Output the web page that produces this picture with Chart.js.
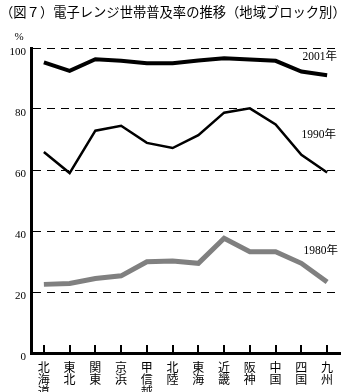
<!DOCTYPE html>
<html><head><meta charset="utf-8">
<script src="https://cdn.jsdelivr.net/npm/chart.js@4"></script>
<style>html,body{margin:0;padding:0;background:#fff}#wrap{width:355px;height:392px}</style>
</head><body><div id="wrap"><canvas id="c" width="355" height="392"></canvas></div>
<script>
const categories = ["北海道","東北","関東","京浜","甲信越","北陸","東海","近畿","阪神","中国","四国","九州"];
const y2001 = [95.3, 92.5, 96.3, 95.8, 95.0, 95.0, 95.9, 96.6, 96.2, 95.8, 92.3, 91.1];
const y1990 = [65.9, 59.0, 72.9, 74.5, 68.9, 67.2, 71.4, 78.8, 80.2, 74.9, 65.0, 59.2];
const y1980 = [22.5, 22.8, 24.4, 25.3, 29.9, 30.2, 29.4, 37.6, 33.2, 33.2, 29.4, 23.3];
const seriesNames = ["2001年","1990年","1980年"];
const yTicks = [0, 20, 40, 60, 80, 100];
const titleText = "（図７）電子レンジ世帯普及率の推移（地域ブロック別）";
const unitText = "%";

const serif = "'Liberation Serif', 'Noto Sans CJK JP', serif";
const cjk = "'Noto Sans CJK JP', sans-serif";

const deco = {
  id: 'deco',
  beforeDraw(chart) {
    const ctx = chart.ctx;
    ctx.save();
    ctx.fillStyle = '#fff';
    ctx.fillRect(0, 0, chart.width, chart.height);
    ctx.restore();
  },
  afterDraw(chart) {
    const ctx = chart.ctx;
    const xs = chart.scales.x, ys = chart.scales.y;
    ctx.save();
    ctx.fillStyle = '#000';
    ctx.textBaseline = 'middle';
    ctx.textAlign = 'left';
    ctx.font = "13.3px " + cjk;
    ctx.fillText(titleText, 0, 12);
    ctx.font = "11px " + serif;
    ctx.textAlign = 'center';
    ctx.fillText(unitText, 19, 37);
    // inward tick marks on category axis
    ctx.strokeStyle = '#000';
    ctx.lineWidth = 2;
    categories.forEach((c, i) => {
      const x = Math.round(xs.getPixelForValue(i));
      ctx.beginPath();
      ctx.moveTo(x, xs.top - 8);
      ctx.lineTo(x, xs.top);
      ctx.stroke();
    });
    // series labels
    ctx.font = "11.5px " + serif;
    ctx.textAlign = 'left';
    const lx = xs.getPixelForValue(10) + 1;
    ctx.fillText(seriesNames[0], lx, ys.getPixelForValue(96.9));
    ctx.fillText(seriesNames[1], lx - 1, ys.getPixelForValue(71.6));
    ctx.fillText(seriesNames[2], lx + 1, ys.getPixelForValue(33.4));
    ctx.restore();
  }
};

new Chart(document.getElementById('c'), {
  type: 'line',
  data: {
    labels: categories.map(s => s.split('')),
    datasets: [
      {label: seriesNames[0], data: y2001, borderColor: '#000', borderWidth: 4, pointRadius: 0, tension: 0, fill: false},
      {label: seriesNames[1], data: y1990, borderColor: '#000', borderWidth: 2.5, pointRadius: 0, tension: 0, fill: false},
      {label: seriesNames[2], data: y1980, borderColor: '#808080', borderWidth: 5, pointRadius: 0, tension: 0, fill: false}
    ]
  },
  options: {
    responsive: false,
    animation: false,
    devicePixelRatio: 1,
    layout: {padding: {top: 48, right: 15, left: 0, bottom: 0}},
    plugins: {legend: {display: false}, title: {display: false}, tooltip: {enabled: false}},
    elements: {line: {borderJoinStyle: 'miter', borderCapStyle: 'butt'}},
    scales: {
      x: {
        type: 'category',
        offset: true,
        grid: {display: false, drawTicks: false},
        border: {display: true, color: '#000', width: 3},
        ticks: {color: '#000', font: {family: cjk, size: 12, lineHeight: 1.03}, padding: 8, maxRotation: 0, autoSkip: false},
        afterFit(s) { s.height = 39; }
      },
      y: {
        min: 0, max: 100,
        afterBuildTicks(s) { s.ticks = yTicks.map(v => ({value: v})); },
        grid: {
          drawTicks: false,
          color: c => (c.tick && c.tick.value === 0) ? 'rgba(0,0,0,0)' : '#000',
          lineWidth: 1
        },
        border: {display: true, color: '#000', width: 3, dash: [8, 6]},
        ticks: {color: '#000', font: {family: serif, size: 11}, padding: 5, labelOffset: 4.5},
        afterFit(s) { s.width = 31; }
      }
    }
  },
  plugins: [deco]
});
</script>
</body></html>
